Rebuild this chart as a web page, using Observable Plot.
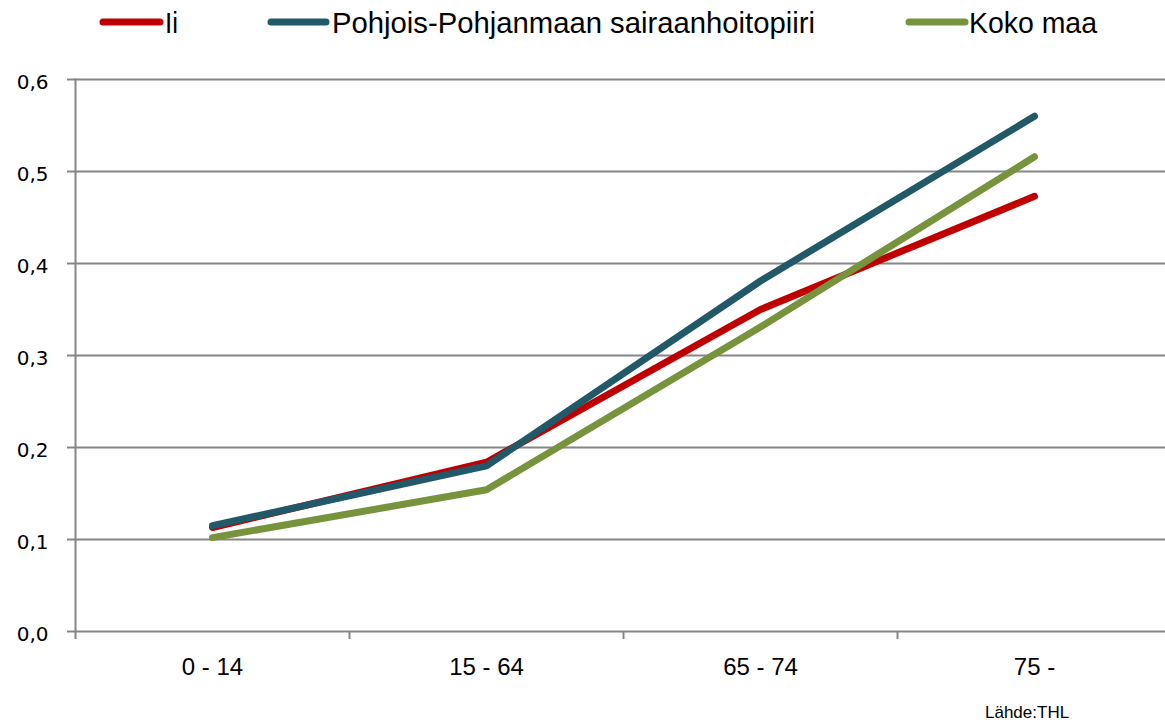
<!DOCTYPE html>
<html><head><meta charset="utf-8">
<script src="https://cdn.jsdelivr.net/npm/d3@7"></script>
<script src="https://cdn.jsdelivr.net/npm/@observablehq/plot@0.6"></script>
<style>
body{margin:0;background:#fff;width:1165px;height:725px;overflow:hidden;font-family:"Liberation Sans",Arial,sans-serif}
#legend svg,#chart svg{display:block}
#caption{height:25px;line-height:25px;padding-left:985px;font-size:17px;color:#000;font-family:"Liberation Sans",Arial,sans-serif}
</style>
</head><body>
<div id="legend"></div>
<div id="chart"></div>
<div id="caption">Lähde:THL</div>
<script>
// ---- data ----
const categories = ["0 - 14", "15 - 64", "65 - 74", "75 -"];
const seriesNames = ["Ii", "Pohjois-Pohjanmaan sairaanhoitopiiri", "Koko maa"];
const ii = [0.113, 0.184, 0.350, 0.473];
const pohjois = [0.115, 0.180, 0.381, 0.560];
const kokoMaa = [0.102, 0.154, 0.331, 0.516];
const seriesColors = ["#C00000", "#215968", "#77933C"];
const yTicks = [0, 0.1, 0.2, 0.3, 0.4, 0.5, 0.6];

const seriesValues = [ii, pohjois, kokoMaa];
const data = [];
seriesNames.forEach((s, i) => seriesValues[i].forEach((v, j) => data.push({series: s, age: categories[j], value: v})));

// ---- legend ----
const legendItems = [
  {x1: 103, x2: 160, tx: 165, tl: 13},
  {x1: 271, x2: 326, tx: 332, tl: 483},
  {x1: 909, x2: 965, tx: 969, tl: 128}
];
const lsvg = d3.select("#legend").append("svg").attr("width", 1165).attr("height", 50);
legendItems.forEach((it, i) => {
  lsvg.append("line").attr("x1", it.x1).attr("x2", it.x2).attr("y1", 22).attr("y2", 22)
    .attr("stroke", seriesColors[i]).attr("stroke-width", 7).attr("stroke-linecap", "round");
  lsvg.append("text").attr("x", it.tx).attr("y", 33).attr("font-size", 29)
    .attr("font-family", "Liberation Sans, Arial, sans-serif")
    .attr("textLength", it.tl).attr("lengthAdjust", "spacingAndGlyphs")
    .text(seriesNames[i]);
});

// ---- chart ----
const W = 1165, H = 650, mL = 75, mR = -6;
const step = (W - mL - mR) / categories.length;
const fmt = d => d3.format(".1f")(d).replace(".", ",");
const grey = "#868686";

const chart = Plot.plot({
  width: W, height: H,
  marginTop: 29, marginBottom: 69, marginLeft: mL, marginRight: mR,
  style: {fontFamily: "Liberation Sans, Arial, sans-serif", background: "white", color: "black", overflow: "hidden"},
  x: {type: "point", domain: categories, padding: 0.5},
  y: {domain: [0, 0.6]},
  color: {domain: seriesNames, range: seriesColors},
  marks: [
    Plot.gridY(yTicks.filter(d => d > 0), {stroke: grey, strokeOpacity: 1, strokeWidth: 2}),
    Plot.ruleY([0], {stroke: grey, strokeWidth: 2}),
    Plot.frame({anchor: "left", stroke: grey, strokeWidth: 2}),
    Plot.axisY({ticks: yTicks, tickFormat: () => "", tickSize: 8, stroke: grey, strokeWidth: 2, label: null}),
    Plot.axisY({ticks: yTicks, tickFormat: fmt, tickSize: 0, tickPadding: 27, dy: 3, fill: "black", fontSize: 20, fontFamily: "DejaVu Sans", label: null}),
    Plot.axisX({tickSize: 8, tickFormat: () => "", dx: -step / 2, stroke: grey, strokeWidth: 2, label: null}),
    Plot.axisX({tickSize: 0, tickPadding: 26, fontSize: 24, fill: "black", label: null}),
    Plot.line(data, {x: "age", y: "value", z: "series", stroke: "series", strokeWidth: 7, strokeLinecap: "round", strokeLinejoin: "round"})
  ]
});
document.getElementById("chart").appendChild(chart);
</script>
</body></html>
